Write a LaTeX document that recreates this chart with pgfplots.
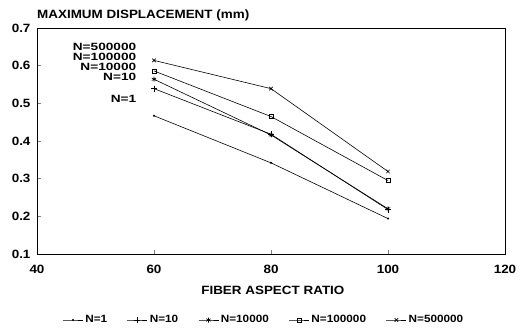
\documentclass[border=0pt]{standalone}
\usepackage{fontspec}
\setmainfont{Liberation Sans}[FakeStretch=1.12]
\newfontfamily\lblfont{Liberation Sans}[FakeStretch=1.3]
\usepackage{pgfplots}
\pgfplotsset{compat=1.18}
\begin{document}
\begin{tikzpicture}[x=1pt,y=1pt]
\begin{axis}[
  scale only axis,
  width=468pt, height=226pt,
  xmin=40, xmax=120, ymin=0.1, ymax=0.7,
  xtick={40,60,80,100,120},
  ytick={0.1,0.2,0.3,0.4,0.5,0.6,0.7},
  xtick pos=bottom, ytick pos=left,
  tick align=inside,
  major tick length=4pt,
  tick style={line width=0.8pt},
  /pgf/number format/assume math mode=true,
  ticklabel style={font=\bfseries\fontsize{12}{14}\selectfont},
  xticklabel style={yshift=-8pt},
  yticklabel style={xshift=-3pt, /pgf/number format/.cd, fixed, fixed zerofill, precision=1},
  xlabel={FIBER ASPECT RATIO},
  xlabel style={font=\bfseries\fontsize{12}{14}\selectfont, at={(axis description cs:0.504,-0.159)}, anchor=center},
  axis line style={black, line width=1pt},
  legend style={at={(0.485,-0.292)}, anchor=center, draw=none, legend columns=5,
    font=\bfseries\fontsize{10.5}{12}\selectfont, inner sep=0pt,
    /tikz/every even column/.append style={column sep=18pt}},
  legend cell align=left,
  legend image code/.code={\draw[mark repeat=2,mark phase=2,#1] plot coordinates {(0pt,0pt) (10pt,0pt) (20pt,0pt)};},
  every axis plot/.append style={black, line width=0.6pt},
  clip=false,
]
\addplot[mark=*, mark size=0.7pt] coordinates {(60,0.467) (80,0.342) (100,0.194)};
\addlegendentry{N=1}
\addplot[mark=+, mark size=3pt] coordinates {(60,0.539) (80,0.418) (100,0.218)};
\addlegendentry{N=10}
\addplot[mark=asterisk, mark size=2.5pt] coordinates {(60,0.564) (80,0.416) (100,0.220)};
\addlegendentry{N=10000}
\addplot[mark=square, mark size=2pt] coordinates {(60,0.586) (80,0.465) (100,0.295)};
\addlegendentry{N=100000}
\addplot[mark=x, mark size=2.5pt] coordinates {(60,0.614) (80,0.539) (100,0.319)};
\addlegendentry{N=500000}
\node[anchor=east, font=\lblfont\bfseries\fontsize{10.5}{10.5}\selectfont, inner sep=0pt] at (axis cs:57,0.650) {N=500000};
\node[anchor=east, font=\lblfont\bfseries\fontsize{10.5}{10.5}\selectfont, inner sep=0pt] at (axis cs:57,0.623) {N=100000};
\node[anchor=east, font=\lblfont\bfseries\fontsize{10.5}{10.5}\selectfont, inner sep=0pt] at (axis cs:57,0.596) {N=10000};
\node[anchor=east, font=\lblfont\bfseries\fontsize{10.5}{10.5}\selectfont, inner sep=0pt] at (axis cs:57,0.569) {N=10};
\node[anchor=east, font=\lblfont\bfseries\fontsize{10.5}{10.5}\selectfont, inner sep=0pt] at (axis cs:57,0.512) {N=1};
\node[anchor=base west, font=\bfseries\fontsize{12}{14}\selectfont, inner sep=0pt] at ([yshift=10pt]rel axis cs:0,1) {MAXIMUM DISPLACEMENT (mm)};
\path ([xshift=-37pt,yshift=-76pt]rel axis cs:0,0) ([xshift=21pt,yshift=28pt]rel axis cs:1,1);
\end{axis}
\end{tikzpicture}
\end{document}
